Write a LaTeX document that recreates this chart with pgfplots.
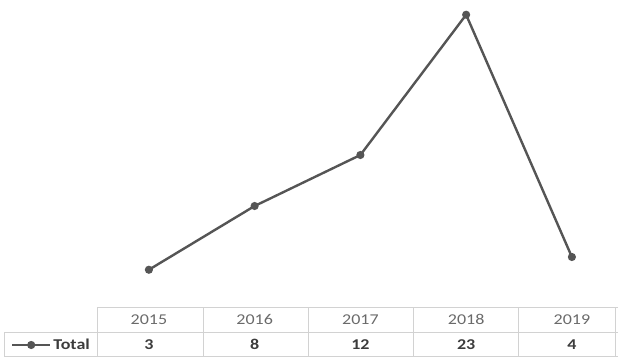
\documentclass[border=0pt]{standalone}
\usepackage{fontspec}
\setmainfont{Carlito}[FakeStretch=1.2]
\usepackage{pgfplots}
\pgfplotsset{compat=1.18}
\definecolor{linegray}{HTML}{555555}
\definecolor{yeargray}{HTML}{6A6A6A}
\definecolor{valgray}{HTML}{3C3C3C}
\definecolor{gridgray}{HTML}{D2D2D2}
\begin{document}
\begin{tikzpicture}
\begin{axis}[
  at={(96pt,55pt)}, anchor=south west,
  scale only axis, width=522pt, height=308pt,
  xmin=-0.5, xmax=4.436, ymin=0, ymax=24.157,
  hide axis, clip=false,
  legend style={at={(axis cs:-0.5,-2.902)}, anchor=east, xshift=-1pt,
    draw=none, fill=none, text=valgray,
    font=\fontsize{15}{17}\selectfont\bfseries},
  legend image code/.code={\draw[#1, mark repeat=2, mark phase=2] plot coordinates {(0pt,0pt)(19pt,0pt)(38pt,0pt)};},
]
\addplot[linegray, line width=2.4pt, mark=*, mark size=2.8pt, mark options={fill=linegray}]
  coordinates {(0,3) (1,8) (2,12) (3,23) (4,4)};
\addlegendentry{Total}
\addplot[draw=none, mark=none, forget plot, nodes near coords, point meta=explicit symbolic,
  nodes near coords style={anchor=base, inner sep=0pt, text=yeargray, font=\fontsize{15}{17}\selectfont}]
  table[meta=t] {
x y t
0 -1.31 2015
1 -1.31 2016
2 -1.31 2017
3 -1.31 2018
4 -1.31 2019
};
\addplot[draw=none, mark=none, forget plot, nodes near coords, point meta=explicit symbolic,
  nodes near coords style={anchor=base, inner sep=0pt, text=valgray, font=\fontsize{15}{17}\selectfont\bfseries}]
  table[meta=t] {
x y t
0 -3.27 3
1 -3.27 8
2 -3.27 12
3 -3.27 23
4 -3.27 4
};
\end{axis}
\draw[gridgray, line width=1pt] (97pt,55pt) -- (618pt,55pt);
\draw[gridgray, line width=1pt] (4pt,30pt) -- (618pt,30pt);
\draw[gridgray, line width=1pt] (4pt,6pt) -- (618pt,6pt);
\draw[gridgray, line width=1pt] (4pt,6pt) -- (4pt,30pt);
\foreach \xx in {97,203,308,413,518,615} {
  \draw[gridgray, line width=1pt] (\xx pt,6pt) -- (\xx pt,55pt);
}
\pgfresetboundingbox
\path[use as bounding box] (0,0) rectangle (618pt,363pt);
\end{tikzpicture}
\end{document}
